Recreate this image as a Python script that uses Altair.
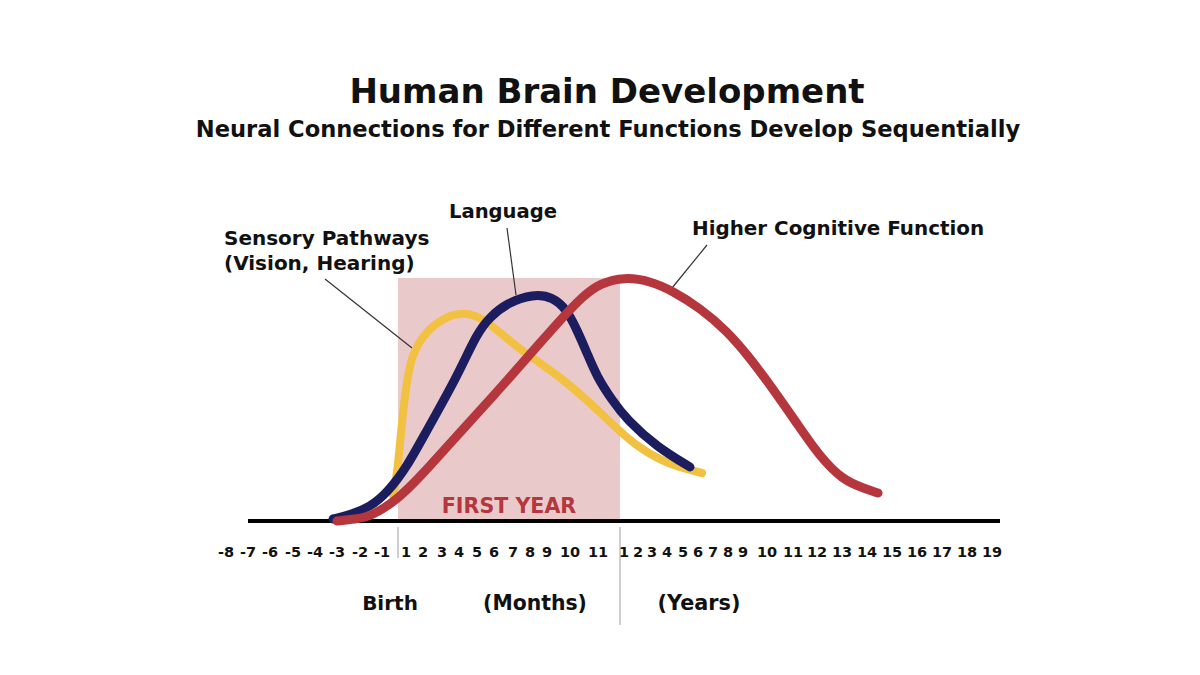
import altair as alt
import pandas as pd

# ---------------- data (x = position along the time axis, level = development) -------------
sens_x = [393, 397, 402, 408, 413, 418, 427, 443, 463, 480, 497, 517, 540, 560, 587, 613, 635, 663, 690, 702]
sens_y = [26, 44, 101, 149, 166, 177, 190, 203, 209, 204, 191, 174, 158, 144, 121, 96, 76, 59, 51, 48]

lang_x = [333, 350, 370, 387, 407, 427, 457, 477, 490, 507, 533, 553, 567, 577, 587, 597, 612, 627, 657, 690]
lang_y = [2, 6, 14, 28, 54, 91, 144, 188, 204, 218, 227, 224, 211, 191, 168, 144, 121, 101, 74, 54]

cog_x = [337, 355, 370, 397, 420, 453, 487, 510, 540, 563, 582, 600, 625, 650, 673, 700, 727, 750, 773, 796, 820, 843, 863, 878]
cog_y = [0, 2, 4, 21, 44, 81, 118, 144, 178, 204, 224, 238, 244, 240, 230, 213, 190, 163, 132, 99, 64, 41, 33, 28]

tick_labels = ["-8", "-7", "-6", "-5", "-4", "-3", "-2", "-1",
               "1", "2", "3", "4", "5", "6", "7", "8", "9", "10", "11",
               "1", "2", "3", "4", "5", "6", "7", "8", "9", "10", "11", "12", "13", "14", "15", "16", "17", "18", "19"]
tick_pos = [226, 248, 270, 293, 315, 337, 360, 382,
            406, 423, 442, 459, 477, 494, 513, 530, 547, 570, 598,
            624, 638, 652, 667, 683, 698, 713, 728, 743, 767, 793, 817, 842, 867, 892, 917, 942, 967, 992]

birth_pos = 398
first_year_end = 620
axis_start, axis_end = 248, 1000
first_year_top = 243

FONT = "DejaVu Sans"
YELLOW = "#F2C142"
NAVY = "#1C1D5E"
RED = "#B5373D"
PINK = "#EAC9CB"

xs = alt.Scale(domain=[8, 1192], nice=False, zero=False)
ys = alt.Scale(domain=[-146, 513], nice=False, zero=False)


def curve(xv, yv, color, width):
    df = pd.DataFrame({"x": xv, "level": yv, "i": range(len(xv))})
    return alt.Chart(df).mark_line(
        color=color, strokeWidth=width, interpolate="basis", strokeCap="round"
    ).encode(
        x=alt.X("x:Q", scale=xs, axis=None),
        y=alt.Y("level:Q", scale=ys, axis=None),
        order="i:Q",
    )


# first-year shading
rect = alt.Chart(pd.DataFrame({"x": [birth_pos], "x2": [first_year_end], "y": [0], "y2": [first_year_top]})).mark_rect(
    color=PINK
).encode(x=alt.X("x:Q", scale=xs, axis=None), x2="x2", y=alt.Y("y:Q", scale=ys, axis=None), y2="y2")

baseline = alt.Chart(pd.DataFrame({"x": [axis_start], "x2": [axis_end], "y": [0]})).mark_rule(
    color="black", strokeWidth=4
).encode(x=alt.X("x:Q", scale=xs, axis=None), x2="x2", y=alt.Y("y:Q", scale=ys, axis=None))

dividers = alt.Chart(pd.DataFrame({"x": [birth_pos, first_year_end], "y": [-6, -6], "y2": [-37, -104]})).mark_rule(
    color="#CFCFCF", strokeWidth=2
).encode(x=alt.X("x:Q", scale=xs, axis=None), y=alt.Y("y:Q", scale=ys, axis=None), y2="y2")

leaders = alt.Chart(pd.DataFrame({
    "x": [325, 507, 707], "y": [242, 293, 276],
    "x2": [412, 516, 672], "y2": [173, 226, 233],
})).mark_rule(color="#333333", strokeWidth=1.2).encode(
    x=alt.X("x:Q", scale=xs, axis=None), y=alt.Y("y:Q", scale=ys, axis=None), x2="x2", y2="y2"
)

ticks = alt.Chart(pd.DataFrame({"x": tick_pos, "label": tick_labels})).mark_text(
    font=FONT, fontWeight="bold", fontSize=14.5, baseline="alphabetic", align="center", color="#111111"
).encode(x=alt.X("x:Q", scale=xs, axis=None), y=alt.value(557 - 8), text="label:N")


def txt(text, x, y, size, align="center", color="#111111"):
    return alt.Chart(pd.DataFrame({"x": [x], "y": [y], "t": [text]})).mark_text(
        font=FONT, fontWeight="bold", fontSize=size, baseline="alphabetic", align=align, color=color
    ).encode(x=alt.X("x:Q", scale=xs, axis=None), y=alt.Y("y:Q", scale=ys, axis=None), text="t:N")


texts = [
    txt("Human Brain Development", 607, 418, 34),
    txt("Neural Connections for Different Functions Develop Sequentially", 608, 384, 22.6),
    txt("Sensory Pathways", 224, 276, 20, "left"),
    txt("(Vision, Hearing)", 224, 251, 20, "left"),
    txt("Language", 503, 303, 19.6),
    txt("Higher Cognitive Function", 692, 286, 19.9, "left"),
    txt("FIRST YEAR", 509, 8, 20.6, color=RED),
    txt("Birth", 390, -89, 20),
    txt("(Months)", 535, -89, 20.4),
    txt("(Years)", 699, -89, 20.8),
]

chart = alt.layer(
    rect, baseline, dividers, leaders,
    curve(sens_x, sens_y, YELLOW, 8),
    curve(lang_x, lang_y, NAVY, 9),
    curve(cog_x, cog_y, RED, 9),
    ticks, *texts,
).properties(width=1184, height=659, padding=0, background="white").configure_view(stroke=None)

chart.save("out.html", embed_options={"renderer": "svg", "actions": False})
